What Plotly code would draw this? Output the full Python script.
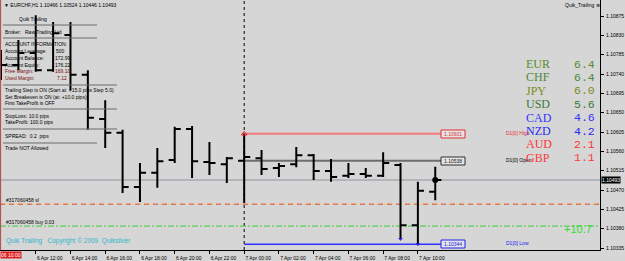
import plotly.graph_objects as go
from datetime import datetime, timedelta

# ---------------- data ----------------
bar_times = ["2016-04-06 10:00", "2016-04-06 11:00", "2016-04-06 12:00", "2016-04-06 13:00",
             "2016-04-06 14:00", "2016-04-06 15:00", "2016-04-06 16:00", "2016-04-06 17:00",
             "2016-04-06 18:00", "2016-04-06 19:00", "2016-04-06 20:00", "2016-04-06 21:00",
             "2016-04-06 22:00", "2016-04-06 23:00", "2016-04-07 00:00", "2016-04-07 01:00",
             "2016-04-07 02:00", "2016-04-07 03:00", "2016-04-07 04:00", "2016-04-07 05:00",
             "2016-04-07 06:00", "2016-04-07 07:00", "2016-04-07 08:00", "2016-04-07 09:00",
             "2016-04-07 10:00", "2016-04-07 11:00"]
opens = [1.10749, 1.10761, 1.10789, 1.10749, 1.10831, 1.10738, 1.10635, 1.10603,
         1.10477, 1.10510, 1.10540, 1.10612, 1.10535, 1.10530, 1.10538, 1.10544,
         1.10521, 1.10530, 1.10551, 1.10514, 1.10503, 1.10507, 1.10503, 1.10528,
         1.10388, 1.10466]
highs = [1.10796, 1.10819, 1.10877, 1.10861, 1.10861, 1.10749, 1.10679, 1.10610,
         1.10533, 1.10568, 1.10617, 1.10619, 1.10582, 1.10547, 1.10601, 1.10563,
         1.10533, 1.10570, 1.10554, 1.10542, 1.10533, 1.10521, 1.10558, 1.10533,
         1.10489, 1.10524]
lows = [1.10726, 1.10749, 1.10745, 1.10745, 1.10703, 1.10610, 1.10568, 1.10463,
        1.10442, 1.10475, 1.10533, 1.10498, 1.10505, 1.10486, 1.10440, 1.10505,
        1.10500, 1.10523, 1.10493, 1.10489, 1.10498, 1.10498, 1.10500, 1.10356,
        1.10344, 1.10446]
closes = [1.10761, 1.10789, 1.10749, 1.10835, 1.10738, 1.10638, 1.10603, 1.10477,
          1.10510, 1.10537, 1.10612, 1.10537, 1.10533, 1.10544, 1.10547, 1.10519,
          1.10526, 1.10551, 1.10514, 1.10500, 1.10507, 1.10503, 1.10533, 1.10388,
          1.10468, 1.10493]

x_tick_vals = ["2016-04-06 12:00", "2016-04-06 14:00", "2016-04-06 16:00", "2016-04-06 18:00",
               "2016-04-06 20:00", "2016-04-06 22:00", "2016-04-07 00:00", "2016-04-07 02:00",
               "2016-04-07 04:00", "2016-04-07 06:00", "2016-04-07 08:00", "2016-04-07 10:00"]
x_tick_text = ["6 Apr 12:00", "6 Apr 14:00", "6 Apr 16:00", "6 Apr 18:00", "6 Apr 20:00",
               "6 Apr 22:00", "7 Apr 00:00", "7 Apr 02:00", "7 Apr 04:00", "7 Apr 06:00",
               "7 Apr 08:00", "7 Apr 10:00"]
y_tick_vals = [1.10875, 1.10830, 1.10785, 1.10740, 1.10695, 1.10650, 1.10605,
               1.10560, 1.10515, 1.10470, 1.10425, 1.10380, 1.10335]
y_tick_text = ["1.10875", "1.10830", "1.10785", "1.10740", "1.10695", "1.10650", "1.10605",
               "1.10560", "1.10515", "1.10470", "1.10425", "1.10380", "1.10335"]

bid_price = 1.10493
d1_start = "2016-04-07 00:00"
d1_high = 1.10601
d1_open = 1.10538
d1_low = 1.10344
sl_price = 1.10437
buy_price = 1.10386
profit_text = "+10.7"

currencies = ["EUR", "CHF", "JPY", "USD", "CAD", "NZD", "AUD", "GBP"]
strengths = ["6.4", "6.4", "6.0", "5.6", "4.6", "4.2", "2.1", "1.1"]
cur_colors = ["#5a8a2a", "#4a8a3a", "#7a8a1a", "#3a7a3a", "#3333ff", "#2a2aee", "#ff3333", "#ff3a3a"]

title_text = "\u25bc EURCHF,H1 1.10466 1.10524 1.10446 1.10493"

# ---------------- layout helpers ----------------
W, H = 625, 261
PLOT_W, PLOT_H = 600, 250
PX_PER_HOUR = 17.37
X0 = datetime(2016, 4, 6, 9, 56, 33)


def t_at(px):
    return X0 + timedelta(hours=px / PX_PER_HOUR)


def p_at(py):
    return 1.10875 - (py - 16) * 0.000023276


def fx(px):
    return px / PLOT_W


def fy(py):
    return (PLOT_H - py) / PLOT_H


BG = "#d6d6d6"
FONT = "Liberation Sans"

fig = go.Figure()

fig.add_trace(go.Ohlc(
    x=bar_times, open=opens, high=highs, low=lows, close=closes,
    increasing=dict(line=dict(color="black", width=2)),
    decreasing=dict(line=dict(color="black", width=2)),
    tickwidth=0.35, hoverinfo="skip", showlegend=False))

fig.add_trace(go.Scatter(x=[d1_start], y=[d1_high], mode="markers",
                         marker=dict(symbol="triangle-up-open", size=5, color="#ee2222"),
                         hoverinfo="skip", showlegend=False))
fig.add_trace(go.Scatter(x=[bar_times[23], bar_times[24]], y=[lows[23], lows[24]], mode="markers",
                         marker=dict(symbol="triangle-down", size=4, color="#2222ee"),
                         hoverinfo="skip", showlegend=False))
fig.add_trace(go.Scatter(x=[bar_times[-1]], y=[closes[-1]], mode="markers",
                         marker=dict(size=6, color="black"), hoverinfo="skip", showlegend=False))

shapes = []
shapes.append(dict(type="line", xref="paper", yref="y", x0=0, x1=1, y0=bid_price, y1=bid_price,
                   line=dict(color="#b2b6ba", width=2), layer="below"))
shapes.append(dict(type="line", xref="x", yref="paper", x0=d1_start, x1=d1_start, y0=0, y1=1,
                   line=dict(color="black", width=1, dash="dot"), layer="below"))
x_end = t_at(441)
shapes.append(dict(type="line", xref="x", yref="y", x0=d1_start, x1=x_end, y0=d1_high, y1=d1_high,
                   line=dict(color="#f07a7a", width=2), layer="below"))
shapes.append(dict(type="line", xref="x", yref="y", x0=d1_start, x1=x_end, y0=d1_open, y1=d1_open,
                   line=dict(color="#6e6e6e", width=2), layer="below"))
shapes.append(dict(type="line", xref="x", yref="y", x0=d1_start, x1=x_end, y0=d1_low, y1=d1_low,
                   line=dict(color="#3030ff", width=1.5), layer="below"))
shapes.append(dict(type="line", xref="paper", yref="y", x0=0, x1=1, y0=sl_price, y1=sl_price,
                   line=dict(color="#e8d040", width=1, dash="2px,2px"), layer="below"))
shapes.append(dict(type="line", xref="paper", yref="y", x0=0, x1=1, y0=sl_price, y1=sl_price,
                   line=dict(color="#e04848", width=1, dash="5px,4px"), layer="below"))
shapes.append(dict(type="line", xref="paper", yref="y", x0=0, x1=1, y0=buy_price, y1=buy_price,
                   line=dict(color="#3ccc3c", width=1, dash="6px,2px,2px,2px"), layer="below"))
shapes.append(dict(type="line", xref="paper", yref="paper", x0=0.001, x1=0.001, y0=0, y1=1,
                   line=dict(color="#b04848", width=1), layer="above"))
for (a, b, yy) in [(3, 97, 25), (3, 97, 38), (3, 117, 85), (3, 117, 109), (3, 117, 129), (3, 97, 143)]:
    shapes.append(dict(type="line", xref="paper", yref="paper", x0=fx(a), x1=fx(b), y0=fy(yy), y1=fy(yy),
                       line=dict(color="#6a6a6a", width=1), layer="above"))
for (val, col, yy) in [(d1_high, "#e03030", 134), (d1_open, "#303030", 161), (d1_low, "#2020ee", 244)]:
    shapes.append(dict(type="rect", xref="paper", yref="paper", x0=fx(441), x1=fx(465),
                       y0=fy(yy + 4), y1=fy(yy - 4), line=dict(color=col, width=1),
                       fillcolor="#e4e4e4", layer="above"))

ann = []


def txt(s, x, y, size=5, color="black", family=FONT, xanchor="left", bg=None):
    d = dict(text=s, xref="paper", yref="paper", x=fx(x), y=fy(y), xanchor=xanchor, yanchor="middle",
             showarrow=False, font=dict(size=size, color=color, family=family))
    if bg:
        d["bgcolor"] = bg
        d["borderpad"] = 0
    ann.append(d)


txt(title_text, 2, 5, size=5)
txt("Quik_Trailing \u2297", 563, 5, size=5)

maroon = "#7a1010"
panel = [("Quik Trailing", 17, 19, "black"), ("Broker:", 3, 32, "black"), ("Raw Trading Ltd", 23, 32, "black"),
         ("ACCOUNT INFORMATION:", 3, 44, "black"),
         ("Account Leverage:", 3, 51, "black"), ("500", 54, 51, "black"),
         ("Account Balance:", 3, 58, "black"), ("172.99", 53, 58, "black"),
         ("Account Equity:", 3, 65, "black"), ("176.22", 53, 65, "black"),
         ("Free Margin:", 3, 71, maroon), ("169.10", 53, 71, maroon),
         ("Used Margin:", 3, 78, maroon), ("7.12", 55, 78, maroon),
         ("Trailing Step is ON (Start at: +15.0 pips Step 5.0)", 3, 90, "black"),
         ("Set Breakeven is ON (at: +10.0 pips)", 3, 97, "black"),
         ("First TakeProfit is OFF", 3, 103, "black"),
         ("StopLoss: 10.0 pips", 3, 116, "black"),
         ("TakeProfit: 100.0 pips", 3, 122, "black"),
         ("SPREAD:\u00a0 0.2\u00a0 pips", 3, 136, "black"),
         ("Trade NOT Allowed", 3, 148, "black")]
for s, x, y, c in panel:
    txt(s, x, y, color=c)

txt("#317060458 sl", 4, 200, size=5)
txt("#317060458 buy 0.03", 4, 222, size=5)
txt("Quik Trailing\u00a0 \u00a0Copyright \u00a9 2009\u00a0 Quiksilver", 4, 241, size=6.5, color="#30b4cc")
txt(profit_text, 562, 229, size=11, color="#33dd33")

txt("1.10601", 453, 134, size=5, color="#e03030", xanchor="center")
txt("1.10538", 453, 161, size=5, color="#202020", xanchor="center")
txt("1.10344", 453, 244, size=5, color="#2020ee", xanchor="center")
txt("D1[0] High", 504, 133, size=5, color="#e83030")
txt("D1[0] Open", 504, 160, size=5, color="black")
txt("D1[0] Low", 504, 243, size=5, color="#2020ee")

for i, (cname, sval, col) in enumerate(zip(currencies, strengths, cur_colors)):
    yy = 64 + i * 13.4
    txt(cname, 524, yy, size=12, color=col, family="Liberation Serif")
    txt(sval, 572, yy, size=11.5, color=col, family="Liberation Mono")

txt("1.10493", 601, 180, size=5, color="white", bg="black")
txt("06 10:00", 0, 255, size=5, color="white", bg="#e02020")

fig.update_layout(
    width=W, height=H, margin=dict(l=0, r=W - PLOT_W, t=0, b=H - PLOT_H),
    paper_bgcolor=BG, plot_bgcolor=BG, showlegend=False, hovermode=False,
    shapes=shapes, annotations=ann,
    xaxis=dict(type="date", range=[X0, t_at(PLOT_W)], rangeslider=dict(visible=False),
               showgrid=False, zeroline=False, showline=True, linecolor="black", linewidth=1,
               ticks="outside", ticklen=3, tickcolor="black", tickvals=x_tick_vals, ticktext=x_tick_text,
               tickfont=dict(family=FONT, size=5, color="black"), ticklabelshift=14, ticklabelstandoff=0),
    yaxis=dict(range=[p_at(PLOT_H), p_at(0)], side="right", showgrid=False, zeroline=False,
               showline=True, linecolor="black", linewidth=1, ticks="outside", ticklen=3,
               tickcolor="black", tickvals=y_tick_vals, ticktext=y_tick_text,
               tickfont=dict(family=FONT, size=5, color="black"), ticklabelstandoff=1),
)

fig.write_html("out.html")
